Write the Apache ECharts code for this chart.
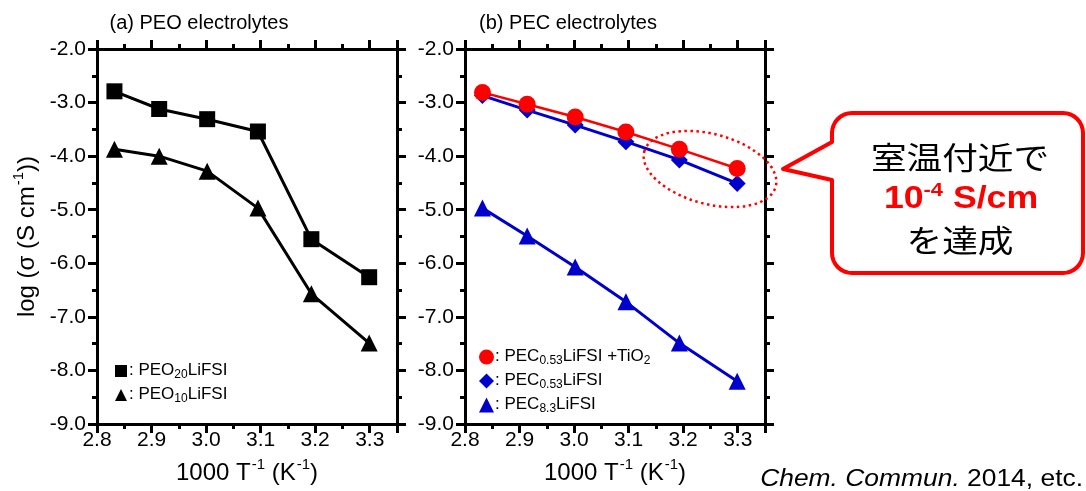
<!DOCTYPE html>
<html>
<head>
<meta charset="utf-8">
<script src="https://cdn.jsdelivr.net/npm/echarts@6/dist/echarts.min.js"></script>
<style>html,body{margin:0;padding:0;background:#fff}#c{width:1086px;height:491px}</style>
</head>
<body>
<div id="c"></div>
<script>
// ---- data ----
const invT = [2.832, 2.914, 3.002, 3.095, 3.193, 3.299];   // 1000/T (K^-1)
const peo20 = [-2.79, -3.12, -3.31, -3.54, -5.55, -6.26];
const peo10 = [-3.87, -4.00, -4.28, -4.97, -6.57, -7.49];
const pecTiO2 = [-2.81, -3.03, -3.27, -3.55, -3.87, -4.23];
const pec053 = [-2.87, -3.14, -3.42, -3.73, -4.07, -4.51];
const pec83 = [-4.97, -5.49, -6.07, -6.72, -7.49, -8.20];
const xTicks = [2.8, 2.9, 3.0, 3.1, 3.2, 3.3];
const yTicks = [-2, -3, -4, -5, -6, -7, -8, -9];
const panelTitles = ['(a) PEO electrolytes', '(b) PEC electrolytes'];

const FONT = '"Liberation Sans", Arial, sans-serif';
const pairs = (ys) => invT.map((x, i) => [x, ys[i]]);

const chart = echarts.init(document.getElementById('c'));
const grids = [
  {left: 97, top: 49, width: 300, height: 375},
  {left: 465, top: 49, width: 300, height: 375}
];
const axisLineStyle = {color: '#000', width: 3};
function xAx(gi, pos) {
  const bottom = pos === 'bottom';
  return {
    type: 'value', gridIndex: gi, position: pos,
    min: 2.8, max: 3.35, interval: 0.1,
    axisLine: {show: true, onZero: false, lineStyle: axisLineStyle},
    axisTick: {show: true, inside: false, length: 9, lineStyle: {width: 3, color: '#000'}},
    minorTick: {show: true, splitNumber: 2, length: 5, lineStyle: {width: 3, color: '#000'}},
    splitLine: {show: false},
    axisLabel: {show: bottom, showMaxLabel: false, margin: 6, fontFamily: FONT, fontSize: 21, color: '#000',
      formatter: v => xTicks.some(t => Math.abs(t - v) < 1e-6) ? v.toFixed(1) : ''},
    name: bottom ? '{n|1000 T}{s|-1}{n| (K}{s|-1}{n|)}' : '',
    nameLocation: 'middle', nameGap: 33,
    nameTextStyle: {fontFamily: FONT, color: '#000', rich: {
      n: {fontFamily: FONT, fontSize: 24, color: '#000', lineHeight: 28, verticalAlign: 'bottom'},
      s: {fontFamily: FONT, fontSize: 15, color: '#000', lineHeight: 28, verticalAlign: 'top', padding: [0, 0, 0, 1]}
    }}
  };
}
function yAx(gi, pos) {
  const left = pos === 'left';
  return {
    type: 'value', gridIndex: gi, position: pos,
    min: -9, max: -2, interval: 1,
    axisLine: {show: true, onZero: false, lineStyle: axisLineStyle},
    axisTick: {show: true, inside: false, length: 9, lineStyle: {width: 3, color: '#000'}},
    minorTick: {show: true, splitNumber: 2, length: 5, lineStyle: {width: 3, color: '#000'}},
    splitLine: {show: false},
    axisLabel: {show: left, margin: 11, fontFamily: FONT, fontSize: 21, color: '#000',
      formatter: v => v.toFixed(1)},
    name: (left && gi === 0) ? '{n|log (σ (S cm}{s|-1}{n|))}' : '',
    nameLocation: 'middle', nameGap: 58, nameRotate: 90,
    nameTextStyle: {fontFamily: FONT, color: '#000', rich: {
      n: {fontFamily: FONT, fontSize: 24, color: '#000', lineHeight: 28, verticalAlign: 'bottom'},
      s: {fontFamily: FONT, fontSize: 15, color: '#000', lineHeight: 28, verticalAlign: 'top', padding: [0, 0, 0, 1]}
    }}
  };
}

const legendRich = {
  b: {fontFamily: FONT, fontSize: 17, color: '#000', lineHeight: 20, verticalAlign: 'top', padding: [1, 0, 0, 0]},
  s: {fontFamily: FONT, fontSize: 12, color: '#000', lineHeight: 20, verticalAlign: 'bottom', padding: [0, 0, 0, 0]}
};
const legendNames = {
  'PEO20LiFSI': '{b|: PEO}{s|20}{b|LiFSI}',
  'PEO10LiFSI': '{b|: PEO}{s|10}{b|LiFSI}',
  'PEC0.53LiFSI +TiO2': '{b|: PEC}{s|0.53}{b|LiFSI +TiO}{s|2}',
  'PEC0.53LiFSI': '{b|: PEC}{s|0.53}{b|LiFSI}',
  'PEC8.3LiFSI': '{b|: PEC}{s|8.3}{b|LiFSI}'
};

function lineSeries(name, gi, data, color, symbol, size, lw) {
  return {
    name, type: 'line', xAxisIndex: gi * 2, yAxisIndex: gi * 2,
    data: pairs(data), symbol, symbolSize: size, showSymbol: true,
    lineStyle: {color, width: lw}, itemStyle: {color, borderWidth: 0},
    emphasis: {disabled: true}, animation: false, z: 3
  };
}

// callout outline (rounded box with pointer), built as polygon points
function calloutPoints(x0, y0, x1, y1, r, tipX, tipY, baseTop, baseBot) {
  const pts = [];
  const arc = (cx, cy, a0, a1) => {
    for (let k = 0; k <= 8; k++) {
      const a = a0 + (a1 - a0) * k / 8;
      pts.push([cx + r * Math.cos(a), cy + r * Math.sin(a)]);
    }
  };
  arc(x0 + r, y0 + r, Math.PI, 1.5 * Math.PI);      // top-left
  arc(x1 - r, y0 + r, 1.5 * Math.PI, 2 * Math.PI);  // top-right
  arc(x1 - r, y1 - r, 0, 0.5 * Math.PI);            // bottom-right
  arc(x0 + r, y1 - r, 0.5 * Math.PI, Math.PI);      // bottom-left
  pts.push([x0, baseBot], [tipX, tipY], [x0, baseTop]);
  return pts;
}

const option = {
  animation: false,
  backgroundColor: '#fff',
  grid: grids,
  xAxis: [xAx(0, 'bottom'), xAx(0, 'top'), xAx(1, 'bottom'), xAx(1, 'top')],
  yAxis: [yAx(0, 'left'), yAx(0, 'right'), yAx(1, 'left'), yAx(1, 'right')],
  title: [
    {text: panelTitles[0], left: 194, top: 8, textAlign: 'center', textStyle: {fontFamily: FONT, fontSize: 20, fontWeight: 'normal', color: '#000'}},
    {text: panelTitles[1], left: 563, top: 8, textAlign: 'center', textStyle: {fontFamily: FONT, fontSize: 20, fontWeight: 'normal', color: '#000'}}
  ],
  legend: [
    {orient: 'vertical', left: 110, top: 356, itemWidth: 12, itemHeight: 12, itemGap: 4,
     data: [{name: 'PEO20LiFSI', icon: 'rect'}, {name: 'PEO10LiFSI', icon: 'triangle'}],
     formatter: n => legendNames[n], textStyle: {rich: legendRich, padding: [0,0,0,-3]}, selectedMode: false},
    {orient: 'vertical', left: 474, top: 342, itemWidth: 15, itemHeight: 15, itemGap: 4,
     data: [{name: 'PEC0.53LiFSI +TiO2', icon: 'circle'}, {name: 'PEC0.53LiFSI', icon: 'diamond'}, {name: 'PEC8.3LiFSI', icon: 'triangle'}],
     formatter: n => legendNames[n], textStyle: {rich: legendRich, padding: [0,0,0,-4]}, selectedMode: false}
  ],
  series: [
    lineSeries('PEO20LiFSI', 0, peo20, '#000', 'rect', 16, 3),
    lineSeries('PEO10LiFSI', 0, peo10, '#000', 'triangle', 17, 3),
    lineSeries('PEC8.3LiFSI', 1, pec83, '#0000cc', 'triangle', 17, 3),
    lineSeries('PEC0.53LiFSI', 1, pec053, '#0000cc', 'diamond', 17, 3),
    lineSeries('PEC0.53LiFSI +TiO2', 1, pecTiO2, '#ff0000', 'circle', 17, 2.5)
  ],
  graphic: [
    {type: 'ellipse', x: 710, y: 169, rotation: -0.26, shape: {cx: 0, cy: 0, rx: 68, ry: 35},
     style: {fill: 'none', stroke: '#ff0000', lineWidth: 2.5, lineDash: [2.5, 3.5]}, z: 10, silent: true},
    {type: 'polygon', shape: {points: calloutPoints(832, 113, 1083, 273, 20, 783, 169, 142, 180)},
     style: {fill: '#fff', stroke: '#ff0000', lineWidth: 4, lineJoin: 'round'}, z: 10, silent: true},
    {type: 'text', x: 960, y: 157, scaleX: 1.15, z: 11, silent: true,
     style: {text: '室温付近で', font: '31px "Noto Sans CJK JP"', fill: '#000', textAlign: 'center', textVerticalAlign: 'middle'}},
    {type: 'text', x: 961, y: 198, scaleX: 1.15, z: 11, silent: true,
     style: {text: '{a|10}{s|-4}{a| S/cm}', textAlign: 'center', textVerticalAlign: 'middle',
       rich: {a: {fontFamily: FONT, fontWeight: 'bold', fontSize: 31, fill: '#ff0000', color: '#ff0000', lineHeight: 34, verticalAlign: 'bottom'},
              s: {fontFamily: FONT, fontWeight: 'bold', fontSize: 19, fill: '#ff0000', color: '#ff0000', lineHeight: 34, verticalAlign: 'top'}}}},
    {type: 'text', x: 960, y: 240, scaleX: 1.15, z: 11, silent: true,
     style: {text: 'を達成', font: '31px "Noto Sans CJK JP"', fill: '#000', textAlign: 'center', textVerticalAlign: 'middle'}},
    {type: 'text', x: 1083, y: 479, scaleX: 1.1, z: 11, silent: true,
     style: {text: '{i|Chem. Commun.}{n| 2014, etc.}', textAlign: 'right', textVerticalAlign: 'middle',
       rich: {i: {fontFamily: FONT, fontStyle: 'italic', fontSize: 24, color: '#000'}, n: {fontFamily: FONT, fontSize: 24, color: '#000'}}}}
  ]
};
chart.setOption(option);
</script>
</body>
</html>
